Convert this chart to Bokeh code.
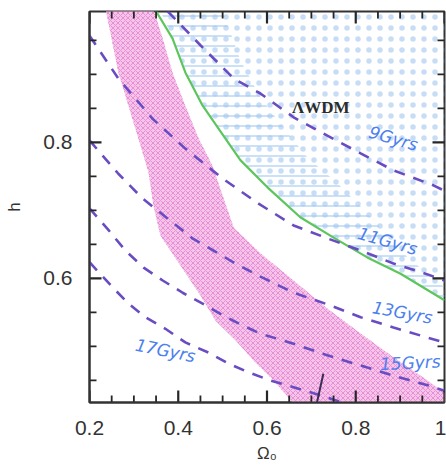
from bokeh.plotting import figure
from bokeh.models import Range1d, FixedTicker, CustomJSTickFormatter, Label, Arrow
from bokeh.embed import file_html
from bokeh.resources import INLINE

# ---------------- data ----------------
# age contours (flat models), x = Omega_0, y = h
age9_x = [0.376, 0.450, 0.525, 0.585, 0.660, 0.736, 0.811, 0.885, 0.975, 1.000]
age9_y = [0.993, 0.943, 0.894, 0.872, 0.837, 0.810, 0.784, 0.759, 0.737, 0.729]

age11_x = [0.200, 0.265, 0.342, 0.416, 0.500, 0.581, 0.660, 0.736, 0.811, 0.885, 0.962, 1.000]
age11_y = [0.957, 0.894, 0.835, 0.791, 0.747, 0.710, 0.678, 0.659, 0.641, 0.622, 0.606, 0.597]

age13_x = [0.200, 0.265, 0.319, 0.432, 0.529, 0.581, 0.660, 0.736, 0.811, 0.885, 0.962, 1.000]
age13_y = [0.803, 0.754, 0.718, 0.659, 0.622, 0.604, 0.579, 0.562, 0.543, 0.528, 0.513, 0.506]

age15_x = [0.200, 0.243, 0.281, 0.322, 0.365, 0.410, 0.455, 0.500, 0.545, 0.585, 0.660, 0.736, 0.811, 0.885, 0.962, 1.000]
age15_y = [0.703, 0.671, 0.641, 0.616, 0.597, 0.579, 0.563, 0.546, 0.531, 0.519, 0.504, 0.487, 0.472, 0.457, 0.443, 0.435]

age17_x = [0.200, 0.252, 0.288, 0.326, 0.371, 0.416, 0.468, 0.513, 0.558, 0.608, 0.660, 0.736, 0.777]
age17_y = [0.624, 0.587, 0.563, 0.543, 0.526, 0.506, 0.491, 0.475, 0.462, 0.450, 0.440, 0.425, 0.416]

# green boundary curve
green_x = [0.349, 0.387, 0.416, 0.455, 0.506, 0.540, 0.601, 0.675, 0.750, 0.826, 0.901, 1.000]
green_y = [0.994, 0.953, 0.903, 0.854, 0.806, 0.774, 0.734, 0.690, 0.660, 0.631, 0.607, 0.568]

# right edge of the blue horizontally hatched band
hatch_edge_x = [0.491, 0.540, 0.585, 0.637, 0.691, 0.759, 0.826, 0.917, 1.000]
hatch_edge_y = [0.993, 0.921, 0.866, 0.822, 0.778, 0.740, 0.696, 0.631, 0.587]

# magenta band edges
band_left_x = [0.232, 0.265, 0.310, 0.333, 0.344, 0.360, 0.405, 0.450, 0.484, 0.529, 0.570, 0.615, 0.657]
band_left_y = [0.994, 0.903, 0.806, 0.756, 0.707, 0.663, 0.619, 0.575, 0.538, 0.509, 0.479, 0.450, 0.418]
band_right_x = [0.337, 0.365, 0.387, 0.416, 0.446, 0.477, 0.500, 0.525, 0.585, 0.660, 0.736, 0.811, 0.885, 0.962, 1.000]
band_right_y = [0.994, 0.953, 0.903, 0.854, 0.806, 0.766, 0.722, 0.675, 0.637, 0.597, 0.556, 0.519, 0.484, 0.450, 0.432]

# annotations
age_labels = ["9Gyrs", "11Gyrs", "13Gyrs", "15Gyrs", "17Gyrs"]
age_label_x = [0.885, 0.872, 0.905, 0.923, 0.371]
age_label_y = [0.806, 0.655, 0.550, 0.476, 0.494]
model_label = "ΛWDM"
model_label_xy = [0.721, 0.851]
pointer_x = [0.727, 0.676]
pointer_y = [0.460, 0.310]

x_major = [0.2, 0.4, 0.6, 0.8, 1.0]
x_minor = [0.25, 0.3, 0.35, 0.45, 0.5, 0.55, 0.65, 0.7, 0.75, 0.85, 0.9, 0.95]
y_major = [0.4, 0.6, 0.8, 1.0]
y_minor = [0.45, 0.5, 0.55, 0.65, 0.7, 0.75, 0.85, 0.9, 0.95]

X0, X1 = 0.2, 1.0
Y0, Y1 = 0.4176, 0.9926

W, H = 446, 475
BL, BR, BT, BB = 89, 2, 11, 73

# ---------------- figure ----------------
p = figure(width=W, height=H, x_range=Range1d(X0, X1), y_range=Range1d(Y0, Y1),
           output_backend="svg", toolbar_location=None,
           min_border_left=BL, min_border_right=BR, min_border_top=BT, min_border_bottom=BB)
p.grid.visible = False
p.outline_line_color = "#333333"
p.outline_line_width = 2
p.background_fill_color = "white"
p.border_fill_color = "white"

top_edge = 1.01
bot_edge = 0.41

# magenta band
bx = band_left_x + [band_left_x[-1] + 0.006, 1.0] + band_right_x[::-1]
by = [top_edge] + band_left_y[1:] + [bot_edge, bot_edge] + band_right_y[::-1][:-1] + [top_edge]
p.patch(bx, by, fill_color="#f5c4ea", line_color=None,
        hatch_pattern="diagonal_cross", hatch_color="#e06cc6", hatch_scale=5, hatch_weight=0.6, hatch_alpha=1.0)

# stippled region above the green curve
sx = green_x + [1.0, green_x[0]]
sy = [top_edge] + green_y[1:] + [top_edge, top_edge]
p.patch(sx, sy, fill_color=None, line_color=None,
        hatch_pattern="dot", hatch_color="#8fbcec", hatch_scale=11, hatch_weight=0.5, hatch_alpha=0.5)

# horizontally hatched band
hx = [green_x[0]] + hatch_edge_x + green_x[::-1][:-1]
hy = [top_edge, top_edge] + hatch_edge_y[1:] + green_y[::-1][:-1]
p.patch(hx, hy, fill_color=None, line_color=None,
        hatch_pattern="horizontal_line", hatch_color="#9ec8f2", hatch_scale=10, hatch_weight=1.3, hatch_alpha=0.85)

# green curve
p.line(green_x, green_y, line_color="#5cc65c", line_width=2.2)

# age contours
for xs, ys in [(age9_x, age9_y), (age11_x, age11_y), (age13_x, age13_y), (age15_x, age15_y), (age17_x, age17_y)]:
    p.line(xs, ys, line_color="#6a4cc2", line_width=2.6, line_dash="11 9")

# labels
angles = [-0.28, -0.28, -0.18, 0.05, -0.2]
for t, lx, ly, a in zip(age_labels, age_label_x, age_label_y, angles):
    p.add_layout(Label(x=lx, y=ly, text=t, text_align="center", text_baseline="middle",
                       text_color="#4d7fee", text_font="DejaVu Sans", text_font_style="italic",
                       text_font_size="17px", angle=a))
p.add_layout(Label(x=model_label_xy[0], y=model_label_xy[1], text=model_label,
                   text_align="center", text_baseline="middle", text_color="#2b2b2b",
                   text_font="Liberation Serif", text_font_style="bold", text_font_size="17px"))

p.add_layout(Arrow(end=None, x_start=pointer_x[0], y_start=pointer_y[0],
                   x_end=pointer_x[1], y_end=pointer_y[1], line_color="#3b2d55", line_width=2))

# ---------------- inward ticks on all four sides (each tick is its own short line) ----------------
tick_col = "#262626"
fw, fh = W - BL - BR, H - BT - BB          # frame size in pixels
px_x = (X1 - X0) / fw                      # data units per pixel
px_y = (Y1 - Y0) / fh
for ticks, length, lw in [(x_major, 12, 2.2), (x_minor, 7, 1.8)]:
    for t in ticks:
        p.line([t, t], [Y0 - 0.01, Y0 + length * px_y], line_color=tick_col, line_width=lw)
        p.line([t, t], [Y1 + 0.01, Y1 - length * px_y], line_color=tick_col, line_width=lw)
for ticks, length, lw in [(y_major, 12, 2.2), (y_minor, 7, 1.8)]:
    for t in ticks:
        p.line([X0 - 0.01, X0 + length * px_x], [t, t], line_color=tick_col, line_width=lw)
        p.line([X1 + 0.01, X1 - length * px_x], [t, t], line_color=tick_col, line_width=lw)

# ---------------- axes (labels only) ----------------
fmt = CustomJSTickFormatter(code="return tick == 1 ? '1' : tick.toFixed(1);")

for ax, tk in [(p.xaxis[0], FixedTicker(ticks=x_major, minor_ticks=[])),
               (p.yaxis[0], FixedTicker(ticks=y_major, minor_ticks=[]))]:
    ax.ticker = tk
    ax.formatter = fmt
    ax.major_tick_in = 0
    ax.major_tick_out = 0
    ax.minor_tick_in = 0
    ax.minor_tick_out = 0
    ax.axis_line_color = "#333333"
    ax.axis_line_width = 2
    ax.major_label_text_font = "Liberation Sans"
    ax.major_label_text_font_size = "21px"
    ax.major_label_text_color = "#333333"
    ax.axis_label_text_font = "Liberation Sans"
    ax.axis_label_text_font_style = "normal"
    ax.axis_label_text_font_size = "17px"
    ax.axis_label_text_color = "#333333"

p.xaxis[0].major_label_standoff = 18
p.xaxis[0].axis_label = "Ω₀"
p.xaxis[0].axis_label_standoff = 6
p.yaxis[0].major_label_standoff = 17
p.yaxis[0].axis_label = "h"
p.yaxis[0].axis_label_standoff = 16

open("out.html", "w").write(file_html(p, INLINE))
